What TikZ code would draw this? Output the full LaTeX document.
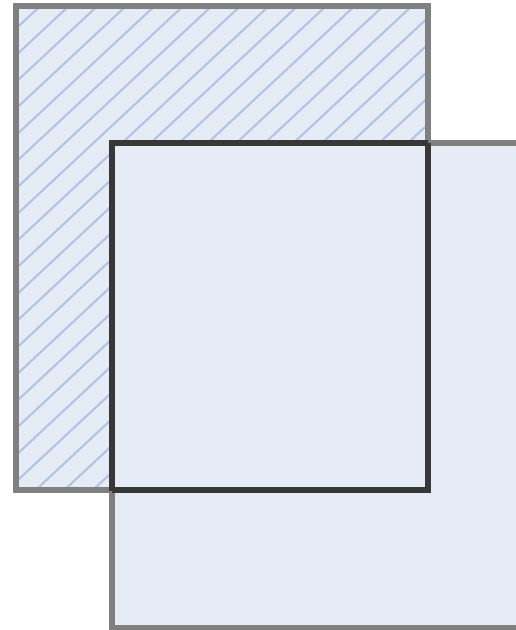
\documentclass[tikz,border=0pt]{standalone}
\usetikzlibrary{patterns.meta}
\definecolor{paneblue}{HTML}{E6ECF6}
\definecolor{hatchblue}{HTML}{B2C4E5}
\tikzset{
	pane/.style={fill=paneblue},
	hatched/.style={pattern={Lines[angle=43,distance=0.39cm,line width=1.2pt]}, pattern color=hatchblue},
	frame/.style={draw=black!50, line width=0.11cm},
	darkframe/.style={draw=black!78, line width=0.11cm},
}
\begin{document}
\begin{tikzpicture}[x=0.02cm,y=-0.02cm]
				\clip (0,0) rectangle (516,630);
				\coordinate (backTL) at (16,6);
				\coordinate (backBR) at (428,490);
				\coordinate (frontTL) at (112,143);
				\coordinate (frontBR) at (545,628);
				\fill[pane] (backTL) rectangle (backBR);
				\fill[hatched] (backTL) rectangle (backBR);
				\fill[pane] (frontTL) rectangle (frontBR);
				\draw[frame] (backTL) rectangle (backBR);
				\draw[frame] (frontTL) rectangle (frontBR);
				% borders darken where they cross the other sheet
				\begin{scope}
					\clip (backTL) rectangle (backBR);
					\draw[darkframe] (frontTL) rectangle (frontBR);
				\end{scope}
				\begin{scope}
					\clip (frontTL) rectangle (frontBR);
					\draw[darkframe] (backTL) rectangle (backBR);
				\end{scope}

			\end{tikzpicture}
\end{document}
